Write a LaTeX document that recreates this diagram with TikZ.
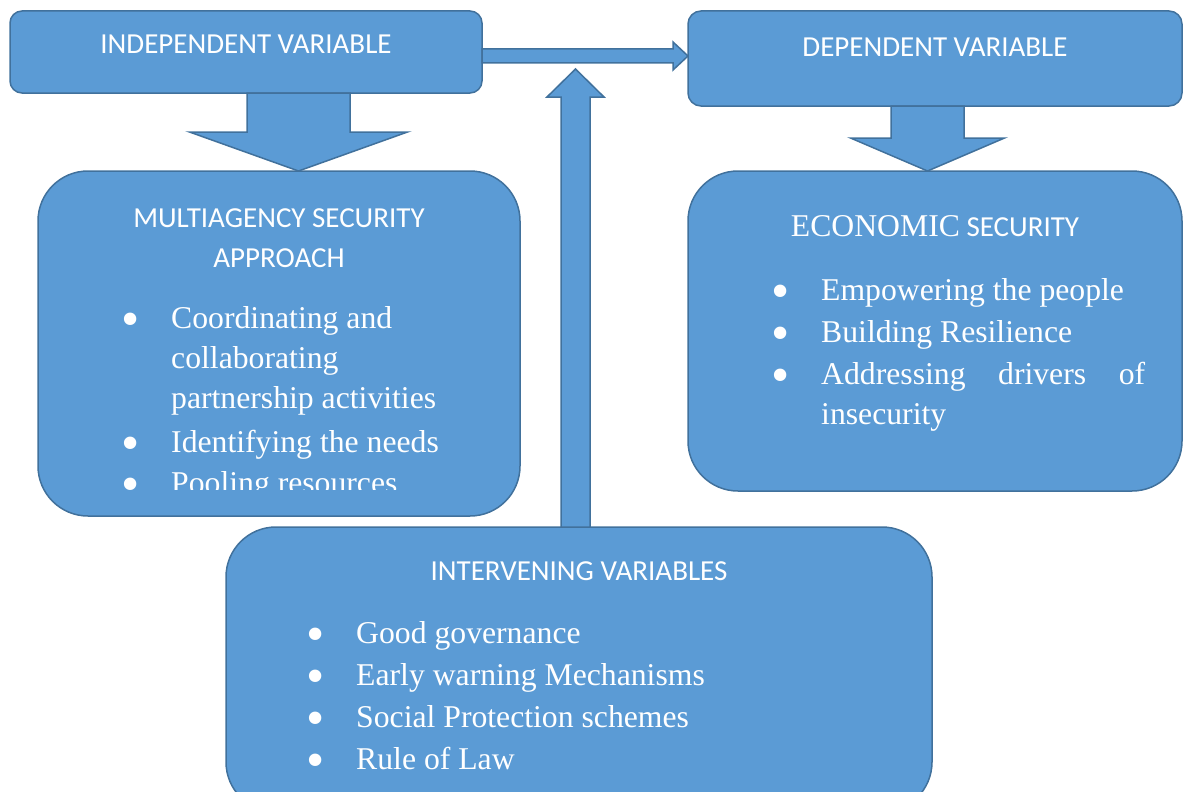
\documentclass[tikz,border=0pt]{standalone}
\usepackage{fontspec}
\setmainfont{Liberation Serif}
\setsansfont{Carlito}
\usepackage{tikz}
\usetikzlibrary{calc, positioning}
\definecolor{boxBlue}{HTML}{5B9BD5}
\definecolor{boxEdge}{HTML}{41719C}
\tikzset{
	varBox/.style={draw=boxEdge, fill=boxBlue, line width=1.5pt, inner sep=0, outer sep=0},
	arrowBody/.style={draw=boxEdge, fill=boxBlue, line width=1.5pt, line join=miter},
	titleText/.style={text=white, anchor=base, inner sep=0, font=\sffamily\fontsize{29}{34}\selectfont},
	itemText/.style={text=white, anchor=base west, inner sep=0, font=\rmfamily\fontsize{31.7}{38}\selectfont},
	bulletMark/.style={text=white, anchor=base, inner sep=0, yshift=-8.5pt, font=\rmfamily\fontsize{52}{52}\selectfont}
}
% block arrow down: from, to, x centre, half shaft, half head, head base y
\newcommand{\blockDown}[6]{
	\filldraw[arrowBody] let \p1=(#1.south), \p2=(#2.north) in
		(#3pt-#4pt,\y1) -- (#3pt+#4pt,\y1) -- (#3pt+#4pt,-#6pt) -- (#3pt+#5pt,-#6pt)
		-- (#3pt,\y2) -- (#3pt-#5pt,-#6pt) -- (#3pt-#4pt,-#6pt) -- cycle;
}
% block arrow right: from, to, y centre, half shaft, half head, head base x
\newcommand{\blockRight}[6]{
	\filldraw[arrowBody] let \p1=(#1.east), \p2=(#2.west) in
		(\x1,-#3pt+#4pt) -- (#6pt,-#3pt+#4pt) -- (#6pt,-#3pt+#5pt) -- (\x2,-#3pt)
		-- (#6pt,-#3pt-#5pt) -- (#6pt,-#3pt-#4pt) -- (\x1,-#3pt-#4pt) -- cycle;
}
% block arrow up: from, tip, half shaft, half head, head base y
\newcommand{\blockUp}[5]{
	\filldraw[arrowBody] let \p1=(#1.north), \p2=(#2) in
		(\x2-#3pt,\y1) -- (\x2-#3pt,-#5pt) -- (\x2-#4pt,-#5pt) -- (\x2,\y2)
		-- (\x2+#4pt,-#5pt) -- (\x2+#3pt,-#5pt) -- (\x2+#3pt,\y1) -- cycle;
}
\newcommand{\dotMark}{\smash{\textbullet}}

\begin{document}
\begin{tikzpicture}[x=1pt, y=-1pt]
	\useasboundingbox (0,0) rectangle (1183,792);
	% boxes
	\node[varBox, minimum width=472, minimum height=82, rounded corners=12] (indep) at (246,52) {};
	\node[varBox, minimum width=494, minimum height=95, rounded corners=13] (dep) at (935,58.5) {};
	\node[varBox, minimum width=482, minimum height=345, rounded corners=50] (multi) at (279,343.5) {};
	\node[varBox, minimum width=494, minimum height=320, rounded corners=50] (econ) at (935,331) {};
	\node[varBox, minimum width=706, minimum height=285, rounded corners=50] (inter) at (579,669.5) {};
	\coordinate (upTip) at (575.5,69);

	% arrows
	\blockDown{indep}{multi}{298.5}{51.5}{109}{132}
	\blockDown{dep}{econ}{927.5}{36.5}{77}{138}
	\blockRight{indep}{dep}{56}{7}{14}{673}
	\blockUp{inter}{upTip}{14.5}{28.5}{97}

	% titles
	\node[titleText] (indepTitle) at (246,54) {INDEPENDENT VARIABLE};
	\node[titleText] (depTitle) at (935,57) {DEPENDENT VARIABLE};
	\node[titleText] (multiTitleA) at (279,227) {MULTIAGENCY SECURITY};
	\node[titleText] (multiTitleB) at (279,267) {APPROACH};
	\node[titleText] (econTitle) at (935,236) {{\rmfamily\fontsize{31.7}{38}\selectfont ECONOMIC} SECURITY};
	\node[titleText] (interTitle) at (579,580) {INTERVENING VARIABLES};

	% multiagency list, last line cut by the box
	\begin{scope}
		\clip (0,0) rectangle (1183,489);
		\node[bulletMark] (multiB1) at (131,328) {\dotMark};
		\node[itemText] (multiI1) at (171,328) {Coordinating and};
		\node[itemText] (multiI2) at (171,368) {collaborating};
		\node[itemText] (multiI3) at (171,408) {partnership activities};
		\node[bulletMark] (multiB4) at (131,452) {\dotMark};
		\node[itemText] (multiI4) at (171,452) {Identifying the needs};
		\node[bulletMark] (multiB5) at (131,493) {\dotMark};
		\node[itemText] (multiI5) at (171,493) {Pooling resources};
	\end{scope}

	% economic list
	\node[bulletMark] (econB1) at (781,300) {\dotMark};
	\node[itemText] (econI1) at (821,300) {Empowering the people};
	\node[bulletMark] (econB2) at (781,342) {\dotMark};
	\node[itemText] (econI2) at (821,342) {Building Resilience};
	\node[bulletMark] (econB3) at (781,384) {\dotMark};
	\node[itemText] (econI3) at (821,384) {\makebox[324pt][s]{Addressing drivers of}};
	\node[itemText] (econI4) at (821,424) {insecurity};

	% intervening list
	\foreach \txt [count=\i] in {Good governance, Early warning Mechanisms, Social Protection schemes, Rule of Law} {
		\node[bulletMark] (interB\i) at (316,601+42*\i) {\dotMark};
		\node[itemText] (interI\i) at (356,601+42*\i) {\txt};
	}
\end{tikzpicture}
\end{document}
